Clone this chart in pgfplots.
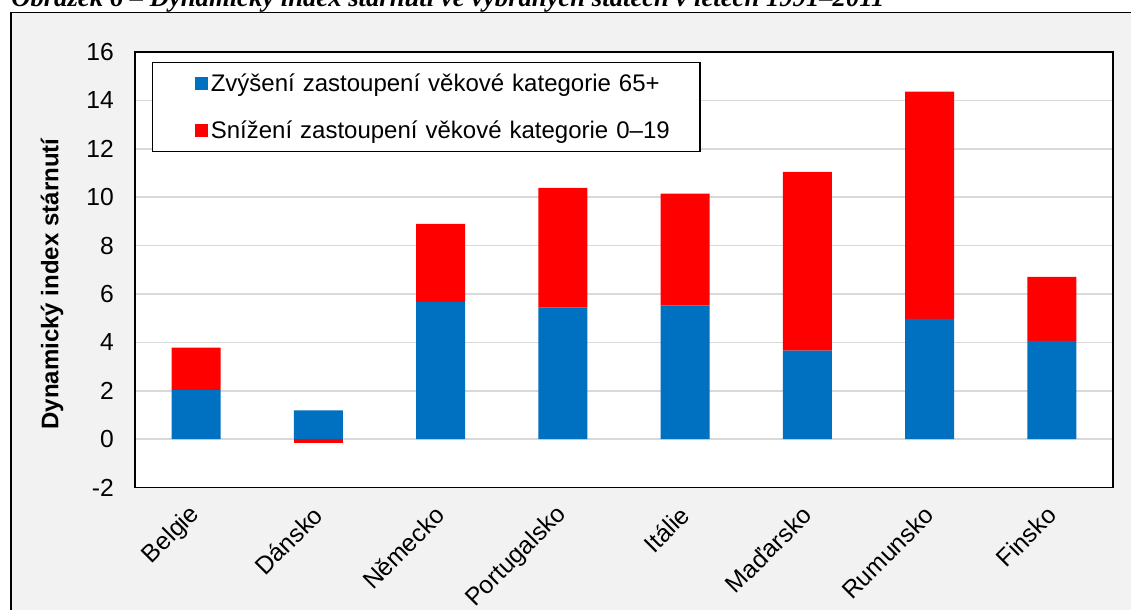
\documentclass[border=0pt]{standalone}
\usepackage{pgfplots}
\pgfplotsset{compat=1.18}
\usepackage{fontspec}
\setmainfont{Liberation Sans}
\newfontfamily\titlefont{Liberation Serif}
\definecolor{barblue}{HTML}{0070C0}
\definecolor{barred}{HTML}{FF0000}
\definecolor{gridgray}{HTML}{D9D9D9}
\definecolor{bggray}{HTML}{F2F2F2}
\pgfplotsset{
  mylegend/.style={legend image code/.code={%
    \path[draw=none, fill=none] (0pt,-4.875pt) rectangle (43.9pt,4.875pt);
    \fill[##1] (32.1pt,-4.875pt) rectangle (41.85pt,4.875pt);}},
}
\begin{document}
\begin{tikzpicture}[x=0.75pt,y=0.75pt]
\useasboundingbox (0,0) rectangle (1131,610);
\clip (0,0) rectangle (1131,610);
\fill[white] (0,0) rectangle (1131,610);
\filldraw[fill=bggray, draw=black, line width=1.25pt] (11,597.5) rectangle (1200,-50);
\node[anchor=base west, inner sep=0pt, font=\titlefont\bfseries\itshape\fontsize{20}{24}\selectfont] at (11,603) {Obrázek 6 – Dynamický index stárnutí ve vybraných státech v letech 1991–2011};
\node[rotate=90, inner sep=0pt, font=\bfseries\fontsize{18}{22}\selectfont] at (52,326) {Dynamický index stárnutí};
\coordinate (sw) at (135,122.5);
\begin{axis}[
  at={(sw)}, anchor=south west,
  scale only axis, width=733.5pt, height=326.6pt,
  xmin=-0.5, xmax=7.5, ymin=-2, ymax=16,
  ytick={-2,0,2,4,6,8,10,12,14,16},
  xtick={0,1,2,3,4,5,6,7},
  xticklabels={Belgie,Dánsko,Německo,Portugalsko,Itálie,Maďarsko,Rumunsko,Finsko},
  ybar stacked, bar width=36.75pt,
  ymajorgrids, grid style={gridgray, line width=1.2pt},
  axis line style={black, line width=1.1pt},
  major tick length=0pt,
  axis background/.style={fill=white},
  tick label style={font=\fontsize{18.5}{22}\selectfont},
  /pgf/number format/assume math mode=true,
  yticklabel style={anchor=east, inner sep=0pt}, yticklabel shift=15.75pt,
  xticklabel style={rotate=45, anchor=east, inner sep=0pt}, xticklabel shift=17.5pt,
  legend style={at={(0.0169,0.9782)}, anchor=north west, draw=black, line width=1.1pt,
    fill=white, inner xsep=0pt, inner ysep=9.4pt, row sep=22.5pt, column sep=0pt,
    nodes={inner sep=0pt, anchor=west, text height=12.75pt, text depth=0pt,
      text width=366.75pt, font=\fontsize{18}{22}\selectfont}},
]
\addplot[fill=barblue, draw=none, mylegend] coordinates {(0,2.03) (1,1.19) (2,5.67) (3,5.43) (4,5.53) (5,3.66) (6,4.97) (7,4.06)};
\addlegendentry{Zvýšení zastoupení věkové kategorie 65+}
\addplot[fill=barred, draw=none, mylegend] coordinates {(0,1.75) (1,0) (2,3.23) (3,4.95) (4,4.62) (5,7.39) (6,9.39) (7,2.65)};
\addlegendentry{Snížení zastoupení věkové kategorie 0–19}
\end{axis}
\begin{axis}[
  at={(sw)}, anchor=south west,
  scale only axis, width=733.5pt, height=326.6pt,
  xmin=-0.5, xmax=7.5, ymin=-2, ymax=16,
  hide axis, ybar, bar width=36.75pt,
]
\addplot[fill=barred, draw=none, bar shift=0pt] coordinates {(1,-0.18)};
\end{axis}
\end{tikzpicture}
\end{document}
